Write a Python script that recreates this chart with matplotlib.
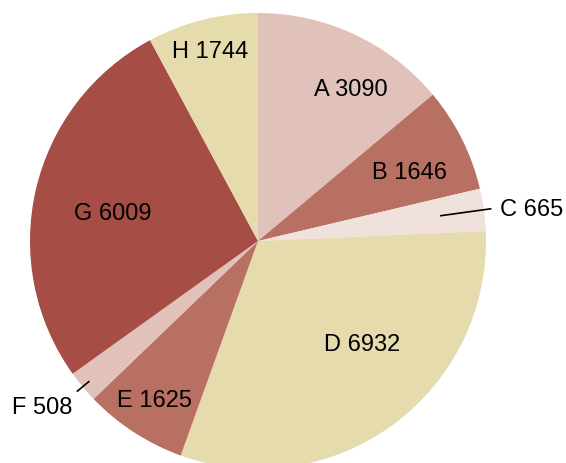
import numpy as np
import matplotlib.pyplot as plt

plt.rcParams['font.family'] = ['Liberation Sans', 'DejaVu Sans']

labels = ["A", "B", "C", "D", "E", "F", "G", "H"]
values = [3090, 1646, 665, 6932, 1625, 508, 6009, 1744]
colors = ["#e0c2bb", "#b87062", "#f0e1dd", "#e5dbad",
          "#b87062", "#e0c2bb", "#a64d45", "#e5dbad"]

# label placement: radius fraction and angle tweak (deg) per slice
label_r = [0.78, 0.73, None, 0.64, 0.83, None, 0.65, 0.86]
label_dtheta = [-6.5, -2, 0, 9, 0, 0, 2, 0]

fig = plt.figure(figsize=(5.66, 4.64), dpi=100)
ax = fig.add_axes([0, 0, 1, 1])

wedges, _ = ax.pie(values, colors=colors, startangle=90, counterclock=False,
                   radius=1.0, wedgeprops=dict(linewidth=0))

for w, lab, val, r, dt in zip(wedges, labels, values, label_r, label_dtheta):
    mid = np.deg2rad((w.theta1 + w.theta2) / 2 + dt)
    txt = f"{lab} {val}"
    if r is not None:
        ax.text(r * np.cos(mid), r * np.sin(mid), txt, ha="center", va="center",
                fontsize=17)
    else:
        # small slices: leader line to an outside label
        x0, y0 = 0.82 * np.cos(mid), 0.82 * np.sin(mid)
        x1, y1 = 1.03 * np.cos(mid), 1.03 * np.sin(mid)
        if np.cos(mid) > 0:
            x0, y0 = 0.81 * np.cos(mid), 0.81 * np.sin(mid)
            ax.plot([x0, x1], [y0, y1], color="black", lw=1.2)
            ax.text(x1 + 0.04, y1 + 0.0, txt, ha="left", va="center", fontsize=17)
        else:
            x0, y0 = 0.965 * np.cos(mid), 0.965 * np.sin(mid)
            ax.plot([x0, x1], [y0, y1], color="black", lw=1.2)
            ax.text(x1 - 0.02, y1 - 0.07, txt, ha="right", va="center", fontsize=17)

ax.set_xlim(-258 / 228, 308 / 228)
ax.set_ylim(-222 / 228, 242 / 228)
ax.set_aspect("equal")
ax.axis("off")

fig.savefig("out.png", dpi=100)
